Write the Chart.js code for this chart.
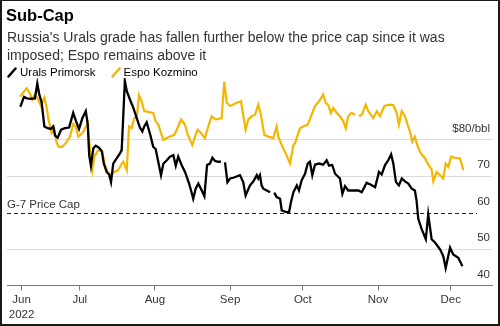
<!DOCTYPE html>
<html>
<head>
<meta charset="utf-8">
<script src="https://cdn.jsdelivr.net/npm/chart.js@4/dist/chart.umd.min.js"></script>
<style>
  html, body { margin: 0; padding: 0; background: #fff; }
  body { width: 500px; height: 326px; position: relative; overflow: hidden;
         font-family: "Liberation Sans", Arial, sans-serif; color: #333; }
  #chart { position: absolute; left: 0; top: 0; }
  .title { position: absolute; left: 6px; top: 5px; font-size: 16.5px; font-weight: bold; color: #000; line-height: 20px; }
  .sub { position: absolute; left: 7px; top: 27.5px; font-size: 14px; line-height: 18px; color: #333; }
  .legend { position: absolute; left: 7px; top: 64px; font-size: 11.5px; line-height: 16px; color: #000; white-space: nowrap; }
  .legend span.item { margin-right: 12px; }
  .legend svg { vertical-align: -2px; margin-right: 3px; }
  .frame { position: absolute; left: 0; top: 0; width: 500px; height: 326px; box-sizing: border-box;
           border: 2px solid #1a1a1a; border-top-width: 1px; pointer-events: none; }
</style>
</head>
<body>
<canvas id="chart" width="500" height="326"></canvas>
<div class="title">Sub-Cap</div>
<div class="sub">Russia's Urals grade has fallen further below the price cap since it was<br>imposed; Espo remains above it</div>
<div class="legend">
  <span class="item"><svg width="10" height="11"><line x1="1.5" y1="9.5" x2="8.5" y2="1.5" stroke="#000" stroke-width="2.5" stroke-linecap="round"/></svg>Urals Primorsk</span>
  <span class="item"><svg width="10" height="11"><line x1="1.5" y1="9.5" x2="8.5" y2="1.5" stroke="#f4b600" stroke-width="2.5" stroke-linecap="round"/></svg>Espo Kozmino</span>
</div>
<div class="frame"></div>
<script>
// days counted from 1 Jun 2022, $/bbl
var uralsDays = [5.5,7.0,8.2,9.9,11.5,12.5,13.3,14.3,15.4,16.8,
  18.0,19.1,19.8,20.9,22.3,23.9,25.6,27.3,28.5,29.7,
  31.1,32.5,33.3,33.9,34.6,35.6,36.6,37.9,39.1,39.9,
  41.1,42.1,42.9,43.8,45.2,46.6,47.3,48.6,49.4,50.7,
  52.1,53.5,54.8,55.8,56.6,57.6,59.0,60.3,61.3,62.1,
  63.5,64.5,65.9,67.2,68.6,69.6,70.6,72.0,73.4,75.1,
  75.9,76.8,77.8,78.9,80.3,81.4,82.5,83.7,84.7,85.8,
  87.1,88.2,89.0,89.9,90.9,92.0,93.3,96.1,97.4,98.4,
  100.2,101.6,103.0,103.6,104.3,105.0,105.7,107.1,108.5,109.3,
  110.2,111.2,112.6,113.3,114.6,116.3,117.1,118.1,119.5,120.4,
  121.5,122.9,124.0,124.9,125.9,127.0,128.7,130.4,131.8,132.8,
  134.1,135.3,137.3,138.3,139.4,140.7,142.8,144.9,146.3,148.3,
  150.1,151.8,153.4,154.5,155.9,157.2,158.4,159.3,160.4,161.6,
  162.8,164.1,165.5,166.9,168.2,168.9,169.6,171.0,172.7,173.7,
  175.1,176.5,178.6,179.9,180.9,182.7,184.0,186.1,187.8];
var uralsPrice = [89.1,91.8,91.4,91.3,91.4,95.5,92.5,90.3,83.7,83.2,
  83.0,83.7,81.2,80.6,82.8,83.2,83.4,87.4,85.1,83.0,
  86.0,87.9,84.2,75.8,72.9,77.7,78.4,77.9,76.9,73.5,
  71.2,70.5,68.4,73.5,74.9,76.3,77.2,96.2,93.4,91.1,
  88.8,86.0,83.4,82.3,83.7,84.8,81.6,78.1,77.5,74.9,
  70.3,73.5,74.4,75.4,75.8,72.9,75.4,73.1,71.2,68.0,
  66.1,63.8,66.6,68.0,66.1,64.5,73.1,73.5,75.1,74.2,
  74.0,74.0,null,73.8,68.4,69.4,69.6,70.3,68.4,64.7,
  67.5,68.6,70.3,69.4,70.3,67.5,66.6,66.1,65.6,null,
  65.5,64.3,63.8,60.6,60.3,60.1,62.9,65.6,67.5,66.1,
  68.9,70.7,73.5,74.0,70.3,73.2,73.5,73.2,74.4,72.9,
  73.1,70.7,69.4,65.2,67.3,66.1,66.1,66.1,65.6,68.2,
  67.7,67.0,71.2,70.5,73.1,74.4,76.0,73.5,68.4,67.5,
  69.4,68.6,68.0,66.6,66.1,63.3,58.3,55.5,52.7,59.6,
  52.7,51.8,49.9,48.1,44.8,50.4,48.5,47.6,45.3];

var espoDays = [5.4,6.7,8.1,9.5,10.4,11.5,12.9,14.0,15.4,16.4,
  17.0,18.4,19.5,20.5,21.4,22.8,24.2,26.0,27.3,28.3,
  29.4,31.1,32.2,33.3,34.2,35.2,36.0,37.6,39.3,40.4,
  41.5,42.9,44.2,45.9,47.3,48.0,49.4,50.3,51.4,52.5,
  53.5,54.4,55.5,56.6,58.3,60.3,61.3,62.4,63.5,64.5,
  65.9,67.2,69.0,70.0,71.8,73.4,74.5,75.5,76.4,77.5,
  78.6,80.0,81.6,83.0,84.4,86.1,88.5,89.6,90.6,92.0,
  93.3,94.7,96.5,97.4,98.4,99.5,100.9,102.3,103.6,104.7,
  106.1,107.8,109.8,111.2,111.9,113.3,114.9,116.7,118.1,118.8,
  119.9,120.8,122.2,124.0,125.6,127.0,128.7,130.4,131.4,132.5,
  133.6,134.5,136.0,137.3,138.7,139.7,140.7,142.1,143.5,144.3,
  145.2,146.5,147.9,149.0,151.0,152.5,153.8,155.6,157.9,159.3,
  160.7,161.6,162.8,164.1,165.2,166.2,167.1,168.2,169.4,170.7,
  172.4,174.0,175.1,175.8,177.2,178.6,179.9,180.9,182.0,183.1,
  184.7,186.8,188.2];
var espoPrice = [91.9,93.0,94.2,92.7,91.1,92.5,91.1,89.3,91.6,88.8,
  86.0,81.9,82.8,79.1,78.1,78.1,79.1,80.9,84.4,83.7,
  80.9,81.9,83.2,84.6,77.2,71.7,75.4,77.2,76.8,73.1,
  71.2,70.3,71.2,71.7,73.5,74.0,71.7,83.7,83.2,86.0,
  86.0,92.3,90.6,87.9,87.7,87.4,85.1,84.2,81.9,80.0,
  80.5,80.9,81.4,82.8,85.6,84.2,81.4,80.0,78.6,80.9,
  82.8,81.9,80.5,83.7,86.5,85.6,86.0,96.0,90.2,89.3,
  89.7,90.2,90.6,86.9,82.8,85.6,86.5,86.9,89.7,86.9,
  81.4,80.9,80.5,83.7,80.9,78.6,76.3,73.5,78.6,79.1,
  81.4,83.2,83.7,84.2,86.9,89.3,90.6,92.5,90.2,89.5,
  87.4,88.8,87.4,86.5,85.1,83.2,86.5,87.4,86.9,null,
  86.5,87.1,89.7,87.9,86.0,87.9,86.5,89.3,89.7,89.5,
  87.4,84.2,87.9,86.5,84.2,82.3,79.5,80.9,78.1,76.3,
  74.9,72.9,71.9,68.6,71.2,70.3,69.4,73.5,72.6,75.4,
  75.1,74.9,71.7];

var xTickDays = [6, 30, 61, 92, 122, 153, 183];
var xTickLabels = [["Jun", "2022"], "Jul", "Aug", "Sep", "Oct", "Nov", "Dec"];
var yTickValues = [40, 50, 60, 70, 80];
var yTickLabels = ["40", "50", "60", "70", "$80/bbl"];
var priceCap = 60;

var FONT = "'Liberation Sans', Arial, sans-serif";
Chart.defaults.font.family = FONT;
Chart.defaults.color = "#333";

function toPoints(days, vals) {
  var out = [];
  for (var i = 0; i < days.length; i++) out.push({ x: days[i], y: vals[i] });
  return out;
}

// dashed cap line + right side value labels
var extras = {
  id: "extras",
  beforeDatasetsDraw: function (chart) {
    var ctx = chart.ctx, a = chart.chartArea;
    var y = Math.round(chart.scales.y.getPixelForValue(priceCap)) + 0.5;
    ctx.save();
    ctx.strokeStyle = "#222";
    ctx.lineWidth = 1.2;
    ctx.setLineDash([4, 3]);
    ctx.beginPath();
    ctx.moveTo(a.left, y);
    ctx.lineTo(a.right - 15, y);
    ctx.stroke();
    ctx.setLineDash([]);
    ctx.font = "11.5px " + FONT;
    ctx.fillStyle = "#333";
    ctx.textAlign = "left";
    ctx.textBaseline = "middle";
    ctx.fillText("G-7 Price Cap", a.left, y - 9);
    ctx.restore();
  },
  afterDraw: function (chart) {
    var ctx = chart.ctx, a = chart.chartArea;
    ctx.save();
    ctx.font = "11.5px " + FONT;
    ctx.fillStyle = "#333";
    ctx.textAlign = "right";
    ctx.textBaseline = "middle";
    for (var i = 0; i < yTickValues.length; i++) {
      var y = chart.scales.y.getPixelForValue(yTickValues[i]);
      ctx.fillText(yTickLabels[i], a.right - 2, y - 11);
    }
    ctx.restore();
  }
};

new Chart(document.getElementById("chart"), {
  type: "line",
  data: {
    datasets: [{
      label: "Urals Primorsk",
      data: toPoints(uralsDays, uralsPrice),
      borderColor: "#000",
      borderWidth: 2.3,
      pointRadius: 0,
      spanGaps: false,
      tension: 0
    }, {
      label: "Espo Kozmino",
      data: toPoints(espoDays, espoPrice),
      borderColor: "#f4b600",
      borderWidth: 2.2,
      pointRadius: 0,
      spanGaps: false,
      tension: 0
    }]
  },
  options: {
    responsive: false,
    animation: false,
    devicePixelRatio: 1,
    layout: { padding: { top: 78, left: 7, right: 8, bottom: 0 } },
    plugins: { legend: { display: false }, tooltip: { enabled: false } },
    scales: {
      x: {
        type: "linear",
        min: 0,
        max: 200,
        afterBuildTicks: function (s) { s.ticks = xTickDays.map(function (v) { return { value: v }; }); },
        afterFit: function (s) { s.height = 40.5; },
        ticks: {
          autoSkip: false,
          maxRotation: 0,
          padding: 2,
          color: "#333",
          font: { size: 11.5, lineHeight: 1.3 },
          callback: function (v, i) { return xTickLabels[i]; }
        },
        grid: { drawOnChartArea: false, drawTicks: true, tickLength: 5, color: "#777" },
        border: { display: true, color: "#777", width: 1 }
      },
      y: {
        min: 40,
        max: 97,
        afterBuildTicks: function (s) { s.ticks = yTickValues.map(function (v) { return { value: v }; }); },
        afterFit: function (s) { s.width = 0; },
        ticks: { display: false },
        grid: {
          drawTicks: false,
          lineWidth: 1,
          color: function (c) {
            var v = c.tick && c.tick.value;
            return (v === 40 || v === priceCap) ? "rgba(0,0,0,0)" : "#dcdcdc";
          }
        },
        border: { display: false }
      }
    }
  },
  plugins: [extras]
});
</script>
</body>
</html>
